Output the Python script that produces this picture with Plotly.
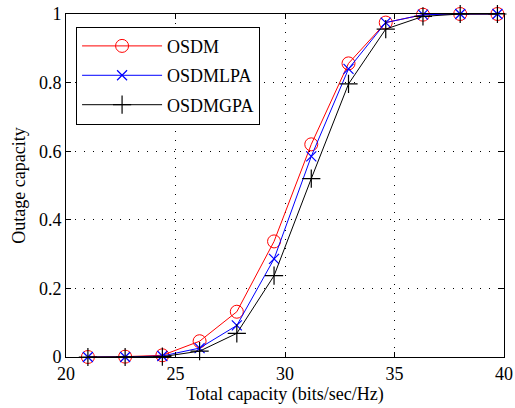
import plotly.graph_objects as go

capacity = [21.0, 22.7, 24.4, 26.1, 27.8, 29.5, 31.2, 32.9, 34.6, 36.3, 38.0, 39.7]
osdm = [0.0, 0.001, 0.005, 0.046, 0.132, 0.337, 0.62, 0.856, 0.975, 0.998, 1.0, 1.0]
osdmlpa = [0.0, 0.0, 0.003, 0.026, 0.092, 0.286, 0.585, 0.84, 0.975, 0.998, 1.0, 1.0]
osdmgpa = [0.0, 0.0, 0.001, 0.017, 0.069, 0.237, 0.52, 0.796, 0.956, 0.993, 1.0, 1.0]

font_family = "Liberation Serif"

fig = go.Figure()
fig.add_trace(go.Scatter(x=capacity, y=osdm, name="OSDM", mode="lines+markers", cliponaxis=False,
                         legendgroup="g1",
                         line=dict(color="red", width=1),
                         marker=dict(symbol="circle-open", size=13, color="red", line=dict(width=1))))
fig.add_trace(go.Scatter(x=capacity, y=osdmlpa, name="OSDMLPA", mode="lines+markers", cliponaxis=False,
                         legendgroup="g2",
                         line=dict(color="blue", width=1),
                         marker=dict(symbol="x-thin-open", size=10, color="blue", line=dict(width=1.2, color="blue"))))
fig.add_trace(go.Scatter(x=capacity, y=osdmgpa, name="OSDMGPA", mode="lines+markers", cliponaxis=False,
                         legendgroup="g3",
                         line=dict(color="black", width=1),
                         marker=dict(symbol="cross-thin-open", size=13, color="black", line=dict(width=1.2, color="black"))))

axis_common = dict(showline=True, linecolor="black", linewidth=1, mirror="ticks",
                   ticks="inside", ticklen=5, tickcolor="black", automargin=False,
                   showgrid=True, gridcolor="black", griddash="1px,8px", gridwidth=1,
                   zeroline=False, tickfont=dict(size=18, color="black", family=font_family))

fig.update_xaxes(range=[20, 40], tickvals=[20, 25, 30, 35, 40],
                 title=dict(text="Total capacity (bits/sec/Hz)", font=dict(size=18, color="black", family=font_family), standoff=3),
                 **axis_common)
fig.update_yaxes(range=[0, 1], tickvals=[0, 0.2, 0.4, 0.6, 0.8, 1], ticktext=["0", "0.2", "0.4", "0.6", "0.8", "1"],
                 title=dict(text="Outage capacity", font=dict(size=18, color="black", family=font_family), standoff=8),
                 **axis_common)

fig.update_layout(
    width=515, height=408,
    margin=dict(l=66, r=11, t=14, b=51),
    paper_bgcolor="white", plot_bgcolor="white",
    font=dict(family=font_family, color="black"),
    showlegend=True,
    legend=dict(x=0.023, y=0.963, xanchor="left", yanchor="top",
                bgcolor="white", bordercolor="black", borderwidth=1,
                font=dict(size=18, family=font_family, color="black"),
                itemwidth=80, tracegroupgap=3, entrywidth=185, entrywidthmode="pixels"),
)

fig.write_html("out.html")
